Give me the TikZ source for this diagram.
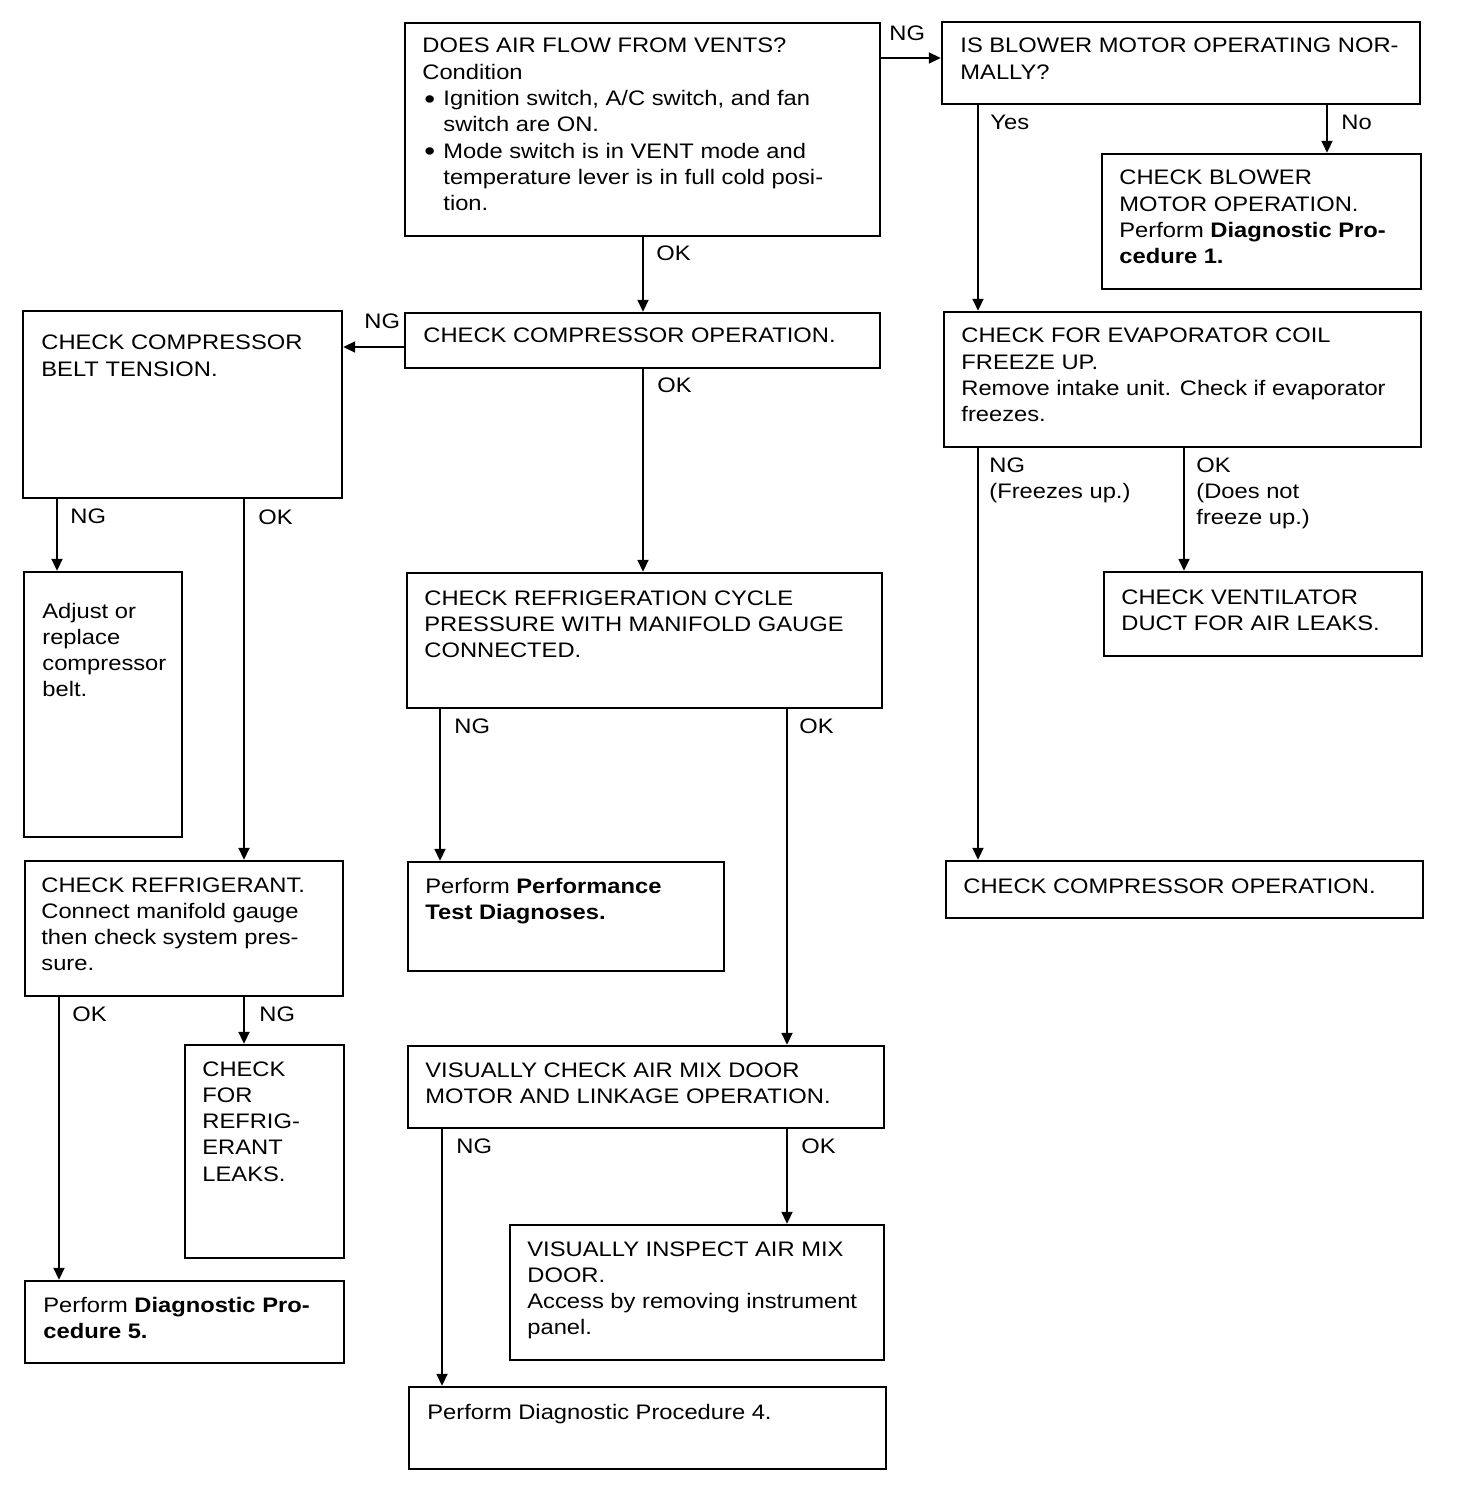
\documentclass[tikz,border=0pt]{standalone}
\usepackage{fontspec}
\setmainfont{Liberation Sans}[FakeStretch=1.13]
\usetikzlibrary{arrows.meta,fit}
\begin{document}
\begin{tikzpicture}[x=0.5pt,y=-0.5pt,
  box/.style={draw,line width=1.2pt,inner sep=0pt},
  txt/.style={anchor=base west,inner sep=0pt,font=\fontsize{10.5pt}{13.15pt}\selectfont},
  lbl/.style={anchor=base west,inner sep=0pt,font=\fontsize{10.5pt}{13.15pt}\selectfont},
  arr/.style={line width=0.9pt,-{Triangle[length=6pt,width=5.5pt]}}]
\useasboundingbox (0,0) rectangle (1472,1486);
\newcommand{\bul}{\makebox[10.5pt][l]{\hspace*{1pt}\raisebox{-1.3pt}{\scalebox{1.3}{\textbullet}}}}
\newcommand{\ind}{\hspace*{10.5pt}}
\newcommand{\mytl}[1]{\begin{tabular}[t]{@{}l@{}}#1\end{tabular}}
% boxes
\node[box,fit={(405,23) (880,236)}] (A) {};
\node[box,fit={(942,22) (1420,104)}] (B) {};
\node[box,fit={(1102,154) (1421,289)}] (C) {};
\node[box,fit={(405,313) (880,368)}] (D) {};
\node[box,fit={(23,311) (342,498)}] (E) {};
\node[box,fit={(944,312) (1421,447)}] (F) {};
\node[box,fit={(24,572) (182,837)}] (G) {};
\node[box,fit={(407,573) (882,708)}] (H) {};
\node[box,fit={(1104,572) (1422,656)}] (I) {};
\node[box,fit={(25,861) (343,996)}] (J) {};
\node[box,fit={(408,862) (724,971)}] (K) {};
\node[box,fit={(946,861) (1423,918)}] (L) {};
\node[box,fit={(185,1045) (344,1258)}] (M) {};
\node[box,fit={(408,1046) (884,1128)}] (N) {};
\node[box,fit={(25,1281) (344,1363)}] (O) {};
\node[box,fit={(510,1225) (884,1360)}] (P) {};
\node[box,fit={(409,1387) (886,1469)}] (Q) {};
% texts
\node[txt] (tA) at (422,53) {\mytl{DOES AIR FLOW FROM VENTS?\\Condition\\\bul Ignition switch, A/C switch, and fan\\\ind switch are ON.\\\bul Mode switch is in VENT mode and\\\ind temperature lever is in full cold posi-\\\ind tion.}};
\node[txt] (tB) at (960,53) {\mytl{IS BLOWER MOTOR OPERATING NOR-\\MALLY?}};
\node[txt] (tC) at (1119,185) {\mytl{CHECK BLOWER\\MOTOR OPERATION.\\Perform \textbf{Diagnostic Pro-}\\\textbf{cedure 1.}}};
\node[txt] (tD) at (423,343) {\mytl{CHECK COMPRESSOR OPERATION.}};
\node[txt] (tE) at (41,350) {\mytl{CHECK COMPRESSOR\\BELT TENSION.}};
\node[txt] (tF) at (961,343) {\mytl{CHECK FOR EVAPORATOR COIL\\FREEZE UP.\\Remove intake unit. Check if evaporator\\freezes.}};
\node[txt] (tG) at (42,618) {\mytl{Adjust or\\replace\\compressor\\belt.}};
\node[txt] (tH) at (424,605) {\mytl{CHECK REFRIGERATION CYCLE\\PRESSURE WITH MANIFOLD GAUGE\\CONNECTED.}};
\node[txt] (tI) at (1121,604) {\mytl{CHECK VENTILATOR\\DUCT FOR AIR LEAKS.}};
\node[txt] (tJ) at (41,892) {\mytl{CHECK REFRIGERANT.\\Connect manifold gauge\\then check system pres-\\sure.}};
\node[txt] (tK) at (425,893) {\mytl{Perform \textbf{Performance}\\\textbf{Test Diagnoses.}}};
\node[txt] (tL) at (963,893) {\mytl{CHECK COMPRESSOR OPERATION.}};
\node[txt] (tM) at (202,1076) {\mytl{CHECK\\FOR\\REFRIG-\\ERANT\\LEAKS.}};
\node[txt] (tN) at (425,1077) {\mytl{VISUALLY CHECK AIR MIX DOOR\\MOTOR AND LINKAGE OPERATION.}};
\node[txt] (tO) at (43,1312) {\mytl{Perform \textbf{Diagnostic Pro-}\\\textbf{cedure 5.}}};
\node[txt] (tP) at (527,1256) {\mytl{VISUALLY INSPECT AIR MIX\\DOOR.\\Access by removing instrument\\panel.}};
\node[txt] (tQ) at (427,1419) {\mytl{Perform Diagnostic Procedure 4.}};
% connector coordinates
\coordinate (r58) at (0,58);
\coordinate (r347) at (0,347);
\coordinate (c643) at (643,0);
\coordinate (c978) at (978,0);
\coordinate (c1327) at (1327,0);
\coordinate (c57) at (57,0);
\coordinate (c244) at (244,0);
\coordinate (c440) at (440,0);
\coordinate (c787) at (787,0);
\coordinate (c1184) at (1184,0);
\coordinate (c59) at (59,0);
\coordinate (c442) at (442,0);
% connectors
\draw[arr] (A.east |- r58) -- (B.west |- r58);
\draw[arr] (A.south -| c643) -- (D.north -| c643);
\draw[arr] (D.west |- r347) -- (E.east |- r347);
\draw[arr] (D.south -| c643) -- (H.north -| c643);
\draw[arr] (B.south -| c978) -- (F.north -| c978);
\draw[arr] (B.south -| c1327) -- (C.north -| c1327);
\draw[arr] (E.south -| c57) -- (G.north -| c57);
\draw[arr] (E.south -| c244) -- (J.north -| c244);
\draw[arr] (H.south -| c440) -- (K.north -| c440);
\draw[arr] (H.south -| c787) -- (N.north -| c787);
\draw[arr] (F.south -| c978) -- (L.north -| c978);
\draw[arr] (F.south -| c1184) -- (I.north -| c1184);
\draw[arr] (J.south -| c59) -- (O.north -| c59);
\draw[arr] (J.south -| c244) -- (M.north -| c244);
\draw[arr] (N.south -| c442) -- (Q.north -| c442);
\draw[arr] (N.south -| c787) -- (P.north -| c787);
% labels
\node[lbl] (l1) at (889,41) {NG};
\node[lbl] (l2) at (656,261) {OK};
\node[lbl] (l3) at (364,329) {NG};
\node[lbl] (l4) at (657,393) {OK};
\node[lbl] (l5) at (990,130) {Yes};
\node[lbl] (l6) at (1341,130) {No};
\node[lbl] (l7) at (70,523) {NG};
\node[lbl] (l8) at (258,524) {OK};
\node[lbl] (l9) at (989,472) {\mytl{NG\\(Freezes up.)}};
\node[lbl] (l10) at (1196,472) {\mytl{OK\\(Does not\\freeze up.)}};
\node[lbl] (l11) at (454,733) {NG};
\node[lbl] (l12) at (799,733) {OK};
\node[lbl] (l13) at (72,1021) {OK};
\node[lbl] (l14) at (259,1021) {NG};
\node[lbl] (l15) at (456,1153) {NG};
\node[lbl] (l16) at (801,1153) {OK};
\end{tikzpicture}
\end{document}
